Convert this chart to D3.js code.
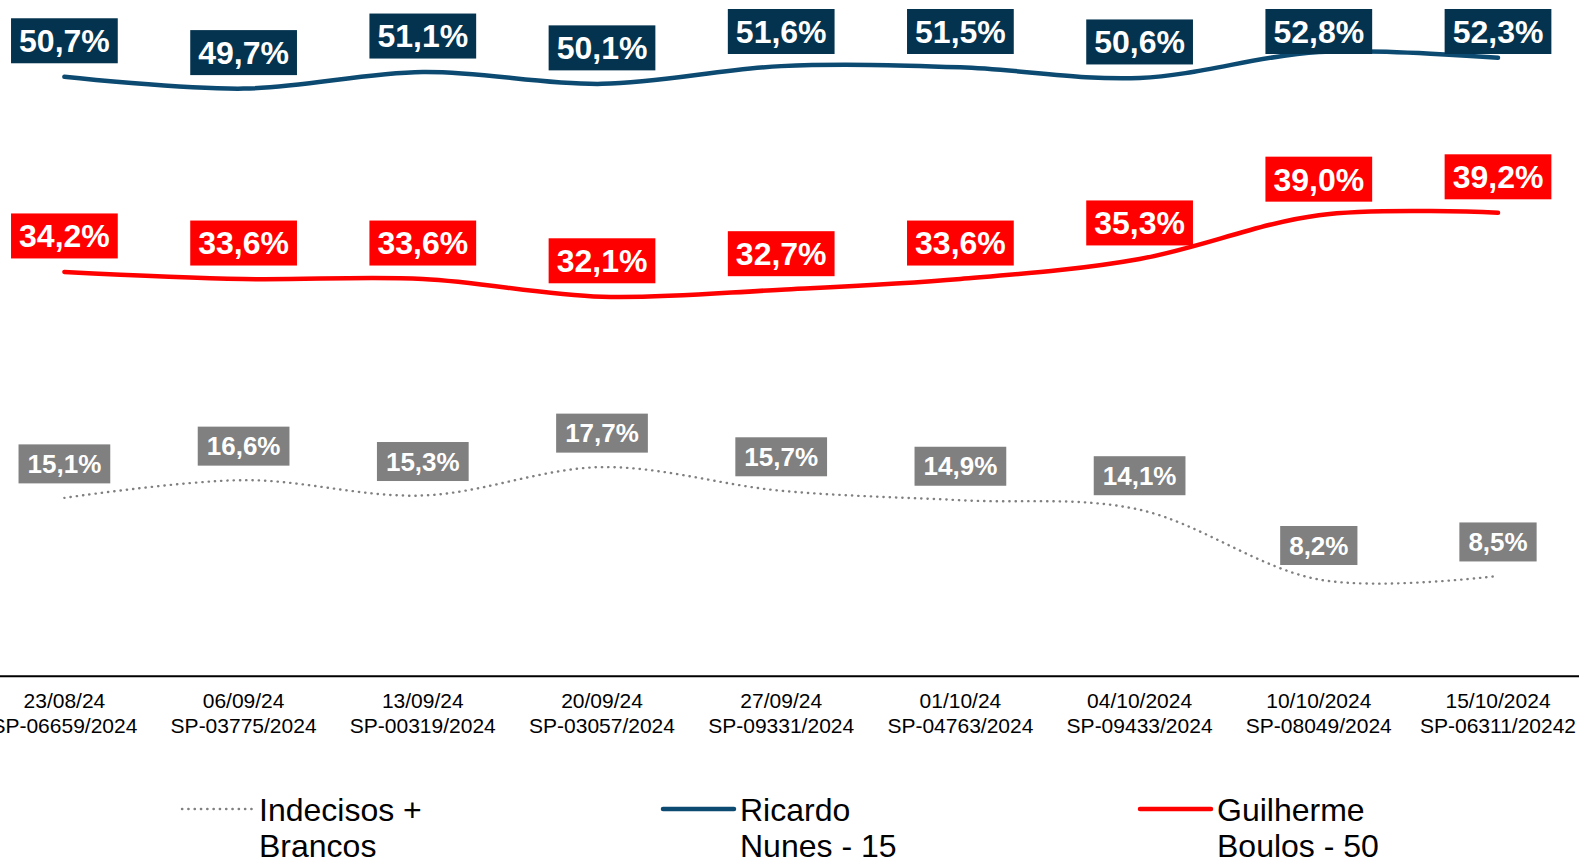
<!DOCTYPE html>
<html>
<head>
<meta charset="utf-8">
<script src="https://cdn.jsdelivr.net/npm/d3@7"></script>
<style>
  html, body { margin: 0; padding: 0; background: #fff; overflow: hidden; }
  svg { display: block; font-family: "Liberation Sans", Arial, sans-serif; }
</style>
</head>
<body>
<svg id="chart" width="1579" height="861"></svg>
<script>
const dates = ["23/08/24", "06/09/24", "13/09/24", "20/09/24", "27/09/24", "01/10/24", "04/10/2024", "10/10/2024", "15/10/2024"];
const registros = ["SP-06659/2024", "SP-03775/2024", "SP-00319/2024", "SP-03057/2024", "SP-09331/2024", "SP-04763/2024", "SP-09433/2024", "SP-08049/2024", "SP-06311/20242"];
const nunes = [50.7, 49.7, 51.1, 50.1, 51.6, 51.5, 50.6, 52.8, 52.3];
const boulos = [34.2, 33.6, 33.6, 32.1, 32.7, 33.6, 35.3, 39.0, 39.2];
const indecisos = [15.1, 16.6, 15.3, 17.7, 15.7, 14.9, 14.1, 8.2, 8.5];
const seriesNames = ["Indecisos +|Brancos", "Ricardo|Nunes - 15", "Guilherme|Boulos - 50"];

const svg = d3.select("#chart");

const x = d3.scaleBand().domain(d3.range(dates.length)).range([-25.2, 1587.6]).paddingInner(0).paddingOuter(0);
const cx = i => x(i) + x.bandwidth() / 2;
const y = d3.scaleLinear().domain([0, 57.19]).range([676.5, 0]);

const fmt = v => v.toFixed(1).replace(".", ",") + "%";

// axis
const axis = d3.axisBottom(x).tickSize(0).tickSizeOuter(0).tickFormat(i => dates[i]);
const gAxis = svg.append("g").attr("transform", "translate(0,675.7)").call(axis);
gAxis.select(".domain").attr("stroke", "#000").attr("stroke-width", 2);
gAxis.selectAll(".tick text").each(function(i) {
  const t = d3.select(this);
  t.text(null).attr("dy", null).attr("y", 0)
    .attr("font-size", 21).attr("fill", "#000")
    .attr("font-family", '"Liberation Sans", Arial, sans-serif');
  t.append("tspan").attr("x", 0).attr("y", 32).text(dates[i]);
  t.append("tspan").attr("x", 0).attr("y", 57).text(registros[i]);
});

const line = d3.line().x((d, i) => cx(i)).y(d => y(d)).curve(d3.curveCardinal.tension(0));

const series = [
  { values: indecisos, color: "#808080", width: 2.4, dash: "0.3 6", box: "#808080", fs: 26, padX: 9, h: 39, off: 34 },
  { values: boulos, color: "#FF0000", width: 4.5, dash: null, box: "#FF0000", fs: 32, padX: 8, h: 45, off: 36 },
  { values: nunes, color: "#0C4A72", width: 4.5, dash: null, box: "#04334F", fs: 32, padX: 8, h: 45, off: 36 }
];

series.forEach(s => {
  svg.append("path").datum(s.values)
    .attr("d", line)
    .attr("fill", "none")
    .attr("stroke", s.color)
    .attr("stroke-width", s.width)
    .attr("stroke-linecap", "round")
    .attr("stroke-dasharray", s.dash);
});

series.forEach(s => {
  const g = svg.append("g");
  s.values.forEach((v, i) => {
    const cyLabel = Math.max(y(v) - s.off, 9 + s.h / 2);
    const lg = g.append("g").attr("transform", `translate(${cx(i)},${cyLabel})`);
    const rect = lg.append("rect").attr("fill", s.box);
    const txt = lg.append("text")
      .attr("text-anchor", "middle")
      .attr("dy", "0.355em")
      .attr("font-size", s.fs)
      .attr("font-weight", "bold")
      .attr("fill", "#fff")
      .text(fmt(v));
    const w = txt.node().getComputedTextLength() + 2 * s.padX;
    rect.attr("x", -w / 2).attr("y", -s.h / 2).attr("width", w).attr("height", s.h);
  });
});

// legend
const legendX = [182, 663, 1140];
const legendStyles = [series[0], series[2], series[1]];
seriesNames.forEach((name, k) => {
  const s = legendStyles[k];
  const g = svg.append("g").attr("transform", `translate(${legendX[k]},809)`);
  g.append("line").attr("x1", 0).attr("x2", 71).attr("y1", 0).attr("y2", 0)
    .attr("stroke", s.color).attr("stroke-width", s.width)
    .attr("stroke-linecap", "round").attr("stroke-dasharray", s.dash);
  const parts = name.split("|");
  const t = g.append("text").attr("font-size", 32).attr("fill", "#000");
  t.append("tspan").attr("x", 77).attr("y", 11.5).text(parts[0]);
  t.append("tspan").attr("x", 77).attr("y", 48).text(parts[1]);
});
</script>
</body>
</html>
